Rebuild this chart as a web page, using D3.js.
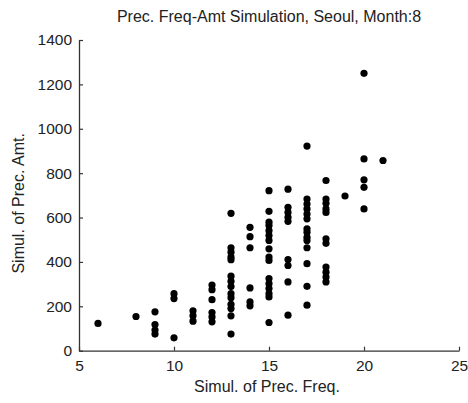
<!DOCTYPE html>
<html>
<head>
<meta charset="utf-8">
<script src="https://cdn.jsdelivr.net/npm/d3@7"></script>
<style>
  html, body { margin: 0; padding: 0; background: #fff; }
  svg { display: block; }
  text { font-family: "Liberation Sans", Arial, sans-serif; fill: #222; }
</style>
</head>
<body>
<script>
// Data
const freq = [6,
  8,
  9, 9, 9, 9,
  10, 10, 10,
  11, 11, 11,
  12, 12, 12, 12, 12, 12,
  13, 13, 13, 13, 13, 13, 13, 13, 13, 13, 13, 13, 13, 13,
  14, 14, 14, 14, 14, 14,
  15, 15, 15, 15, 15, 15, 15, 15, 15, 15, 15, 15, 15, 15, 15, 15,
  16, 16, 16, 16, 16, 16, 16, 16, 16,
  17, 17, 17, 17, 17, 17, 17, 17, 17, 17, 17, 17, 17, 17,
  18, 18, 18, 18, 18, 18, 18, 18, 18, 18, 18,
  19,
  20, 20, 20, 20, 20,
  21];
const amt = [123,
  154,
  175, 118, 93, 75,
  257, 235, 58,
  180, 158, 133,
  296, 275, 230, 172, 152, 130,
  619, 464, 444, 422, 410, 336, 313, 289, 257, 239, 209, 190, 157, 75,
  556, 514, 464, 283, 220, 202,
  721, 628, 579, 564, 541, 519, 497, 459, 422, 407, 325, 302, 280, 257, 242, 127,
  728, 646, 623, 601, 583, 411, 384, 310, 160,
  922, 683, 661, 639, 616, 594, 549, 534, 511, 497, 464, 392, 290, 205,
  767, 683, 664, 639, 623, 504, 484, 377, 354, 332, 310,
  697,
  1250, 864, 770, 736, 639,
  857];
const xTicks = [5, 10, 15, 20, 25];
const yTicks = [0, 200, 400, 600, 800, 1000, 1200, 1400];
const titleText = "Prec. Freq-Amt Simulation, Seoul, Month:8";
const xLabel = "Simul. of Prec. Freq.";
const yLabel = "Simul. of Prec. Amt.";

const W = 468, H = 403;
const margin = {left: 79, right: 9, top: 40, bottom: 52};

const svg = d3.select("body").append("svg").attr("width", W).attr("height", H);

const x = d3.scaleLinear().domain([5, 25]).range([margin.left, W - margin.right]);
const y = d3.scaleLinear().domain([0, 1400]).range([H - margin.bottom - 0.3, margin.top]);

const axisColor = "#333";

// X axis
const gx = svg.append("g").attr("transform", `translate(0,${y(0)})`)
  .call(d3.axisBottom(x).tickValues(xTicks).tickFormat(d3.format("d"))
    .tickSizeInner(-4).tickSizeOuter(0).tickPadding(9));
// Y axis
const gy = svg.append("g").attr("transform", `translate(${x(5)},0)`)
  .call(d3.axisLeft(y).tickValues(yTicks).tickFormat(d3.format("d"))
    .tickSizeInner(-4).tickSizeOuter(0).tickPadding(7));

[gx, gy].forEach(g => {
  g.select(".domain").attr("stroke", axisColor).attr("stroke-width", 1.3);
  g.selectAll(".tick line").attr("stroke", axisColor).attr("stroke-width", 1.2);
  g.selectAll(".tick text").attr("font-size", 15.5).attr("font-family", "'Liberation Sans', Arial, sans-serif").attr("fill", "#222");
});
gx.selectAll(".tick text").attr("dy", "0.75em");

// Points
svg.append("g").selectAll("circle").data(freq.map((f, i) => [f, amt[i]]))
  .join("circle")
  .attr("cx", d => x(d[0]))
  .attr("cy", d => y(d[1]))
  .attr("r", 3.6)
  .attr("fill", "#000");

// Title
svg.append("text").attr("x", (x(5) + x(25)) / 2).attr("y", 22)
  .attr("text-anchor", "middle").attr("font-size", 16).text(titleText);
// X label
svg.append("text").attr("x", (x(5) + x(25)) / 2 - 2).attr("y", 392)
  .attr("text-anchor", "middle").attr("font-size", 16).text(xLabel);
// Y label
svg.append("text").attr("transform", `translate(24,${(y(0) + y(1400)) / 2 + 8}) rotate(-90)`)
  .attr("text-anchor", "middle").attr("font-size", 16).text(yLabel);
</script>
</body>
</html>
